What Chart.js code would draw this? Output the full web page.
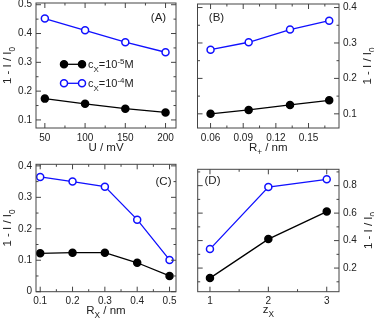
<!DOCTYPE html>
<html>
<head>
<meta charset="utf-8">
<script src="https://cdn.jsdelivr.net/npm/chart.js@4.4.0/dist/chart.umd.min.js"></script>
<style>
html, body { margin: 0; padding: 0; background: #fff; }
#wrap { position: relative; width: 374px; height: 321px; }
canvas { position: absolute; }
</style>
</head>
<body>
<div id="wrap">
  <canvas id="panelA" style="left:0;top:0" width="187" height="160"></canvas>
  <canvas id="panelB" style="left:187px;top:0" width="187" height="160"></canvas>
  <canvas id="panelC" style="left:0;top:160px" width="187" height="161"></canvas>
  <canvas id="panelD" style="left:187px;top:160px" width="187" height="161"></canvas>
</div>
<script>
// data
const uValues = [50, 100, 150, 200];
const aLow = [0.174, 0.156, 0.139, 0.126];
const aHigh = [0.452, 0.411, 0.370, 0.335];

const rPlus = [0.060, 0.095, 0.133, 0.169];
const bLow = [0.100, 0.111, 0.125, 0.138];
const bHigh = [0.281, 0.302, 0.338, 0.363];

const rX = [0.1, 0.2, 0.3, 0.4, 0.5];
const cLow = [0.122, 0.124, 0.124, 0.092, 0.050];
const cHigh = [0.365, 0.350, 0.334, 0.229, 0.101];

const zX = [1, 2, 3];
const dLow = [0.127, 0.411, 0.611];
const dHigh = [0.338, 0.790, 0.846];

// tick labels
const aXTicks = [50, 100, 150, 200];
const aYTicks = [0.1, 0.2, 0.3, 0.4, 0.5];
const bXTicks = [0.06, 0.09, 0.12, 0.15];
const bYTicks = [0.1, 0.2, 0.3, 0.4];
const cXTicks = [0.1, 0.2, 0.3, 0.4, 0.5];
const cYTicks = [0, 0.1, 0.2, 0.3, 0.4];
const dXTicks = [1, 2, 3];
const dYTicks = [0.2, 0.4, 0.6, 0.8];

// legend text pieces: [text, '' | 'sub' | 'sup']
const lowLabel = [['c', ''], ['X', 'sub'], ['=10', ''], ['-5', 'sup'], ['M', '']];
const highLabel = [['c', ''], ['X', 'sub'], ['=10', ''], ['-4', 'sup'], ['M', '']];
const yTitle = [['1 - I / I', ''], ['0', 'sub']];

const FONT = '"Liberation Sans", Arial, Helvetica, sans-serif';
const TEXT = '#222';
const FRAME = '#444';

function drawRich(ctx, parts, x, y, size, align, angle) {
    const small = size * 0.72;
    let w = 0;
    parts.forEach(p => {
        ctx.font = (p[1] ? small : size) + 'px ' + FONT;
        w += ctx.measureText(p[0]).width;
    });
    ctx.save();
    ctx.translate(x, y);
    if (angle) ctx.rotate(angle);
    ctx.fillStyle = TEXT;
    ctx.textAlign = 'left';
    ctx.textBaseline = 'alphabetic';
    let cx = align === 'center' ? -w / 2 : (align === 'right' ? -w : 0);
    parts.forEach(p => {
        const sz = p[1] ? small : size;
        ctx.font = sz + 'px ' + FONT;
        let dy = 0;
        if (p[1] === 'sub') dy = size * 0.3;
        if (p[1] === 'sup') dy = -size * 0.42;
        ctx.fillText(p[0], cx, dy + size * 0.36);
        cx += ctx.measureText(p[0]).width;
    });
    ctx.restore();
}

function minorValues(scale, step, majors) {
    const out = [];
    const k0 = Math.ceil(scale.min / step - 1e-9);
    const k1 = Math.floor(scale.max / step + 1e-9);
    for (let k = k0; k <= k1; k++) {
        const v = Math.round(k * step * 1e6) / 1e6;
        if (!majors.some(m => Math.abs(m - v) < 1e-9)) out.push(v);
    }
    return out;
}

// frame, inward ticks on all four sides, titles, panel letter, legend
const panelDecor = {
    id: 'panelDecor',
    afterDraw(chart, args, o) {
        const ctx = chart.ctx;
        const a = chart.chartArea;
        const xs = chart.scales.x, ys = chart.scales.y;
        ctx.save();
        ctx.strokeStyle = FRAME;
        ctx.lineWidth = 1;
        ctx.strokeRect(a.left, a.top, a.right - a.left, a.bottom - a.top);

        const xMajor = xs.ticks.map(t => t.value);
        const yMajor = ys.ticks.map(t => t.value);
        ctx.beginPath();
        const xTick = (v, len) => {
            const px = xs.getPixelForValue(v);
            ctx.moveTo(px, a.bottom); ctx.lineTo(px, a.bottom - len);
            ctx.moveTo(px, a.top); ctx.lineTo(px, a.top + len);
        };
        const yTick = (v, len) => {
            const py = ys.getPixelForValue(v);
            ctx.moveTo(a.left, py); ctx.lineTo(a.left + len, py);
            ctx.moveTo(a.right, py); ctx.lineTo(a.right - len, py);
        };
        xMajor.forEach(v => xTick(v, 5));
        yMajor.forEach(v => yTick(v, 5));
        minorValues(xs, o.xMinor, xMajor).forEach(v => xTick(v, 2.5));
        minorValues(ys, o.yMinor, yMajor).forEach(v => yTick(v, 2.5));
        ctx.stroke();
        ctx.restore();

        const cxMid = (a.left + a.right) / 2;
        const cyMid = (a.top + a.bottom) / 2;
        drawRich(ctx, o.xTitle, cxMid, o.xTitleY, 11.5, 'center', 0);
        drawRich(ctx, yTitle, o.yTitleX, cyMid, 11.5, 'center', -Math.PI / 2);
        drawRich(ctx, [[o.letter, '']], o.letterX, o.letterY, 11.5, 'center', 0);

        if (o.legend) {
            const L = o.legend;
            chart.data.datasets.forEach((ds, i) => {
                const y = L.y + i * L.gap;
                ctx.save();
                ctx.strokeStyle = ds.borderColor;
                ctx.lineWidth = ds.borderWidth;
                ctx.beginPath();
                ctx.moveTo(L.x0, y); ctx.lineTo(L.x1, y);
                ctx.stroke();
                [L.x0, L.x1].forEach(px => {
                    ctx.beginPath();
                    ctx.arc(px, y, ds.pointRadius, 0, Math.PI * 2);
                    ctx.fillStyle = ds.pointBackgroundColor;
                    ctx.fill();
                    ctx.lineWidth = ds.pointBorderWidth;
                    ctx.strokeStyle = ds.pointBorderColor;
                    ctx.stroke();
                });
                ctx.restore();
                drawRich(ctx, ds.rich, L.x1 + 6, y, 11, 'left', 0);
            });
        }
    }
};

function pairs(xs, ys) {
    return xs.map((x, i) => ({ x: x, y: ys[i] }));
}

function makePanel(id, box, xVals, low, high, xRange, yRange, xTicks, yTicks, decor) {
    const yRight = box.yPos === 'right';
    const tickFont = { family: FONT, size: 10 };
    return new Chart(document.getElementById(id), {
        type: 'line',
        data: {
            datasets: [{
                label: 'low',
                rich: lowLabel,
                data: pairs(xVals, low),
                borderColor: '#000',
                backgroundColor: '#000',
                pointBackgroundColor: '#000',
                pointBorderColor: '#000',
                borderWidth: 1.3,
                pointRadius: 3.5,
                pointBorderWidth: 1.5
            }, {
                label: 'high',
                rich: highLabel,
                data: pairs(xVals, high),
                borderColor: '#1010ff',
                backgroundColor: '#fff',
                pointBackgroundColor: '#fff',
                pointBorderColor: '#1010ff',
                borderWidth: 1.3,
                pointRadius: 3.5,
                pointBorderWidth: 1.5
            }]
        },
        options: {
            responsive: false,
            animation: false,
            events: [],
            layout: {
                autoPadding: false,
                padding: {
                    left: yRight ? box.l : 0,
                    right: yRight ? 0 : box.w - box.r,
                    top: box.t,
                    bottom: 0
                }
            },
            plugins: {
                legend: { display: false },
                tooltip: { enabled: false },
                panelDecor: decor
            },
            scales: {
                x: {
                    type: 'linear',
                    min: xRange[0],
                    max: xRange[1],
                    grid: { display: false, drawTicks: false },
                    border: { display: false },
                    ticks: { padding: 4, color: TEXT, font: tickFont, maxRotation: 0, callback: v => String(v) },
                    afterBuildTicks: s => { s.ticks = xTicks.map(v => ({ value: v })); },
                    afterFit: s => {
                        s.height = box.h - box.b;
                        s.paddingLeft = 0; s.paddingRight = 0;
                    }
                },
                y: {
                    type: 'linear',
                    position: box.yPos,
                    min: yRange[0],
                    max: yRange[1],
                    grid: { display: false, drawTicks: false },
                    border: { display: false },
                    ticks: { padding: 4, color: TEXT, font: tickFont, callback: v => String(v) },
                    afterBuildTicks: s => { s.ticks = yTicks.map(v => ({ value: v })); },
                    afterFit: s => {
                        s.width = yRight ? box.w - box.r : box.l;
                        s.paddingTop = 0; s.paddingBottom = 0;
                    }
                }
            }
        },
        plugins: [panelDecor]
    });
}

makePanel('panelA', { w: 187, h: 160, l: 36, t: 3, r: 176, b: 128, yPos: 'left' },
    uValues, aLow, aHigh, [39, 213], [0.072, 0.506], aXTicks, aYTicks,
    { xMinor: 25, yMinor: 0.05, xTitle: [['U / mV', '']], xTitleY: 147, yTitleX: 7,
      letter: '(A)', letterX: 158.5, letterY: 17,
      legend: { x0: 64, x1: 82, y: 64.3, gap: 19 } });

makePanel('panelB', { w: 187, h: 160, l: 10.5, t: 4, r: 152, b: 128, yPos: 'right' },
    rPlus, bLow, bHigh, [0.048, 0.178], [0.06, 0.41], bXTicks, bYTicks,
    { xMinor: 0.015, yMinor: 0.05, xTitle: [['R', ''], ['+', 'sub'], [' / nm', '']], xTitleY: 147, yTitleX: 180,
      letter: '(B)', letterX: 29.5, letterY: 17 });

makePanel('panelC', { w: 187, h: 161, l: 36, t: 4.3, r: 176, b: 131.7, yPos: 'left' },
    rX, cLow, cHigh, [0.087, 0.52], [0, 0.405], cXTicks, cYTicks,
    { xMinor: 0.05, yMinor: 0.05, xTitle: [['R', ''], ['X', 'sub'], [' / nm', '']], xTitleY: 150, yTitleX: 7,
      letter: '(C)', letterX: 163.5, letterY: 20.5 });

makePanel('panelD', { w: 187, h: 161, l: 10.7, t: 9.3, r: 152, b: 131.7, yPos: 'right' },
    zX, dLow, dHigh, [0.79, 3.21], [0.028, 0.919], dXTicks, dYTicks,
    { xMinor: 0.5, yMinor: 0.1, xTitle: [['z', ''], ['X', 'sub']], xTitleY: 149, yTitleX: 181,
      letter: '(D)', letterX: 25.5, letterY: 20 });
</script>
</body>
</html>
